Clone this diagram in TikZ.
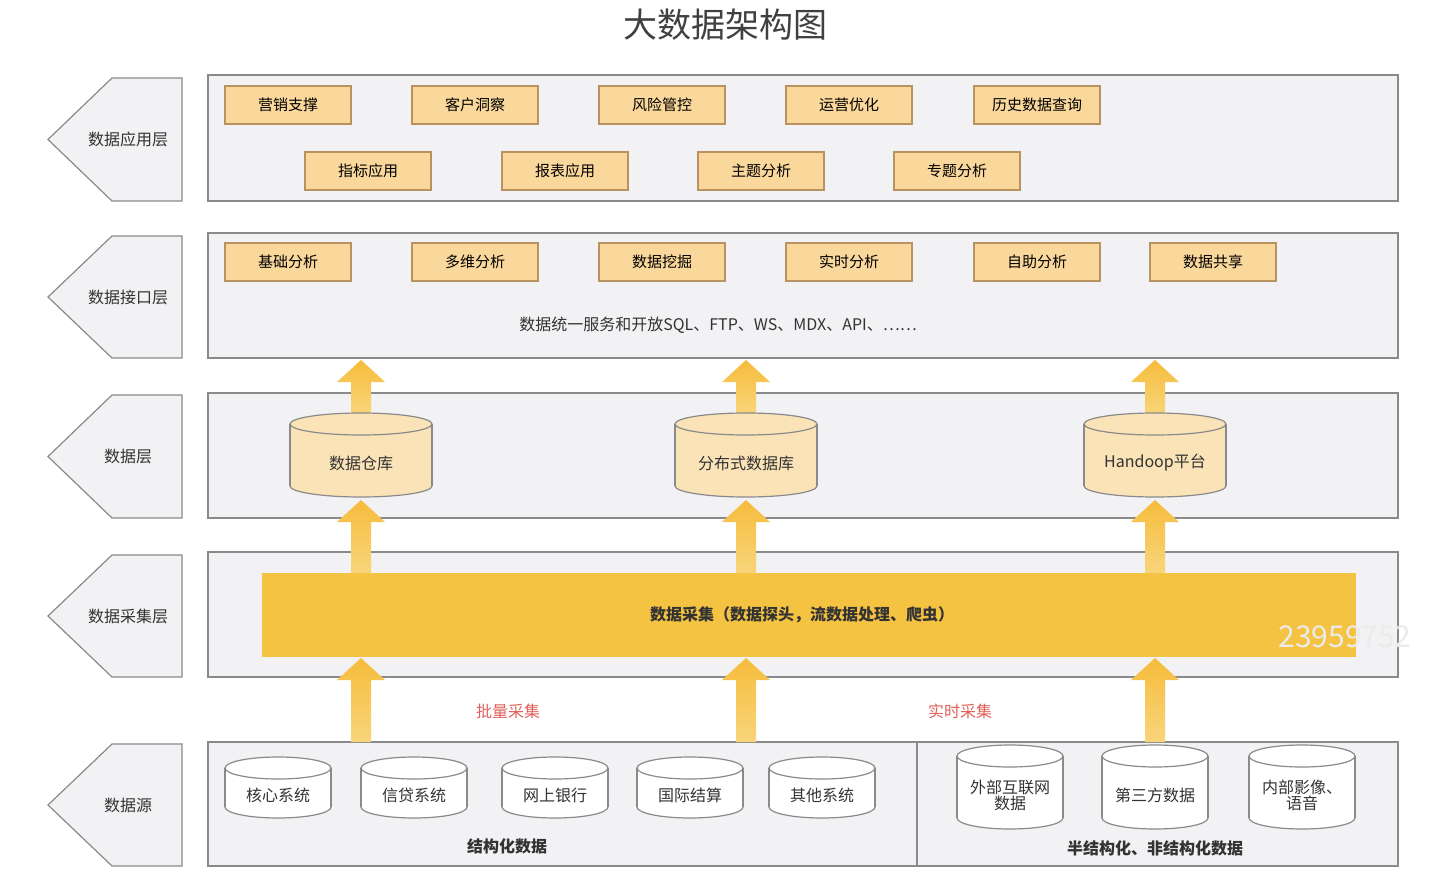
\documentclass[tikz,border=0pt]{standalone}
\usepackage{fontspec}
\setmainfont{Noto Sans CJK SC}
\usetikzlibrary{shadings}
\definecolor{panel}{HTML}{F2F2F4}
\definecolor{edge}{HTML}{8A8A8A}
\definecolor{btn}{HTML}{FAD79A}
\definecolor{btnedge}{HTML}{B89260}
\definecolor{cylf}{HTML}{FBE3B8}
\definecolor{bar}{HTML}{F5C342}
\definecolor{redl}{HTML}{E0605A}
\tikzset{
  panelbox/.style={draw=edge,fill=panel,line width=1.2pt},
  btnbox/.style={draw=btnedge,fill=btn,line width=1.2pt,minimum width=126pt,minimum height=38pt,font=\fontsize{15}{15}\selectfont},
  lbl/.style={font=\fontsize{16}{16}\selectfont,text=black!80},
}
% \cyl{name}{cx}{top}{bottom}{w}{fill}{text}
\newcommand{\cyl}[7]{%
  \pgfmathsetmacro{\ry}{11}%
  \fill[#6] ({#2-#5/2},{#3+\ry}) rectangle ({#2+#5/2},{#4-\ry});
  \filldraw[#6,draw=edge,line width=1.2pt] (#2,{#4-\ry}) ellipse ({#5/2} and \ry);
  \fill[#6] ({#2-#5/2+0.7},{#3+\ry}) rectangle ({#2+#5/2-0.7},{#4-\ry});
  \draw[edge,line width=1.2pt] ({#2-#5/2},{#3+\ry}) -- ({#2-#5/2},{#4-\ry});
  \draw[edge,line width=1.2pt] ({#2+#5/2},{#3+\ry}) -- ({#2+#5/2},{#4-\ry});
  \filldraw[#6,draw=edge,line width=1.2pt] (#2,{#3+\ry}) ellipse ({#5/2} and \ry);
  \node[lbl,align=center] (#1) at (#2,{(#3+#4)/2+8}) {#7};
}
% \bigarrow{cx}{bottom}{tip}
\newcommand{\bigarrow}[3]{%
  \shade[top color=bar!90!orange,bottom color=bar!70!white]
   ({#1-10},#2) -- ({#1-10},{#3+22}) -- ({#1-24},{#3+22}) -- (#1,#3) -- ({#1+24},{#3+22}) -- ({#1+10},{#3+22}) -- ({#1+10},#2) -- cycle;
}
% \layer{name}{top}{bottom}{text}
\newcommand{\layer}[4]{%
  \filldraw[panelbox] (182,#2) -- (112,#2) -- (48,{(#2+#3)/2}) -- (112,#3) -- (182,#3) -- cycle;
  \node[lbl] (#1) at (128,{(#2+#3)/2}) {#4};
}
\begin{document}
\begin{tikzpicture}[x=1pt,y=-1pt]
\useasboundingbox[fill=white] (0,0) rectangle (1456,888);
\node[font=\fontsize{34}{34}\selectfont,text=black!75] (title) at (725,25) {大数据架构图};
% layers
\layer{l1}{78}{201}{数据应用层}
\layer{l2}{236}{358}{数据接口层}
\layer{l3}{395}{518}{数据层}
\layer{l4}{555}{677}{数据采集层}
\layer{l5}{744}{866}{数据源}
\filldraw[panelbox] (208,75) rectangle (1398,201);
\filldraw[panelbox] (208,233) rectangle (1398,358);
\filldraw[panelbox] (208,393) rectangle (1398,518);
\filldraw[panelbox] (208,552) rectangle (1398,677);
\filldraw[panelbox] (208,742) rectangle (1398,866);
\draw[edge,line width=1.2pt] (917,742) -- (917,866);
% row 1
\node[btnbox] (a1) at (288,105) {营销支撑};
\node[btnbox] (a2) at (475,105) {客户洞察};
\node[btnbox] (a3) at (662,105) {风险管控};
\node[btnbox] (a4) at (849,105) {运营优化};
\node[btnbox] (a5) at (1037,105) {历史数据查询};
\node[btnbox] (a6) at (368,171) {指标应用};
\node[btnbox] (a7) at (565,171) {报表应用};
\node[btnbox] (a8) at (761,171) {主题分析};
\node[btnbox] (a9) at (957,171) {专题分析};
% row 2
\node[btnbox] (b1) at (288,262) {基础分析};
\node[btnbox] (b2) at (475,262) {多维分析};
\node[btnbox] (b3) at (662,262) {数据挖掘};
\node[btnbox] (b4) at (849,262) {实时分析};
\node[btnbox] (b5) at (1037,262) {自助分析};
\node[btnbox] (b6) at (1213,262) {数据共享};
\node[lbl] (svc) at (718,325) {数据统一服务和开放SQL、FTP、WS、MDX、API、……};
% collection bar
\fill[bar] (262,573) rectangle (1356,657);
\node[lbl,font=\bfseries\fontsize{16}{16}\selectfont] (collect) at (802,615) {数据采集（数据探头，流数据处理、爬虫）};
\node[font=\fontsize{30}{30}\selectfont,text=black!8] (wm) at (1345,637) {23959752};
% arrows
\foreach \x in {361,746,1155}{
  \bigarrow{\x}{742}{658}
  \bigarrow{\x}{573}{500}
  \bigarrow{\x}{414}{360}
}
% data layer cylinders
\cyl{dw}{361}{413}{497}{142}{cylf}{数据仓库}
\cyl{dd}{746}{413}{497}{142}{cylf}{分布式数据库}
\cyl{hd}{1155}{413}{497}{142}{cylf}{Handoop平台}
% labels
\node[font=\fontsize{16}{16}\selectfont,text=redl] (batch) at (508,711) {批量采集};
\node[font=\fontsize{16}{16}\selectfont,text=redl] (rt) at (960,711) {实时采集};
% sources
\cyl{s1}{278}{757}{818}{106}{white}{核心系统}
\cyl{s2}{414}{757}{818}{106}{white}{信贷系统}
\cyl{s3}{555}{757}{818}{106}{white}{网上银行}
\cyl{s4}{690}{757}{818}{106}{white}{国际结算}
\cyl{s5}{822}{757}{818}{106}{white}{其他系统}
\cyl{s6}{1010}{745}{829}{106}{white}{外部互联网\\数据}
\cyl{s7}{1155}{745}{829}{106}{white}{第三方数据}
\cyl{s8}{1302}{745}{829}{106}{white}{内部影像、\\语音}
\node[lbl,font=\bfseries\fontsize{16}{16}\selectfont] (st) at (507,846) {结构化数据};
\node[lbl,font=\bfseries\fontsize{16}{16}\selectfont] (ust) at (1155,848) {半结构化、非结构化数据};
\end{tikzpicture}
\end{document}
